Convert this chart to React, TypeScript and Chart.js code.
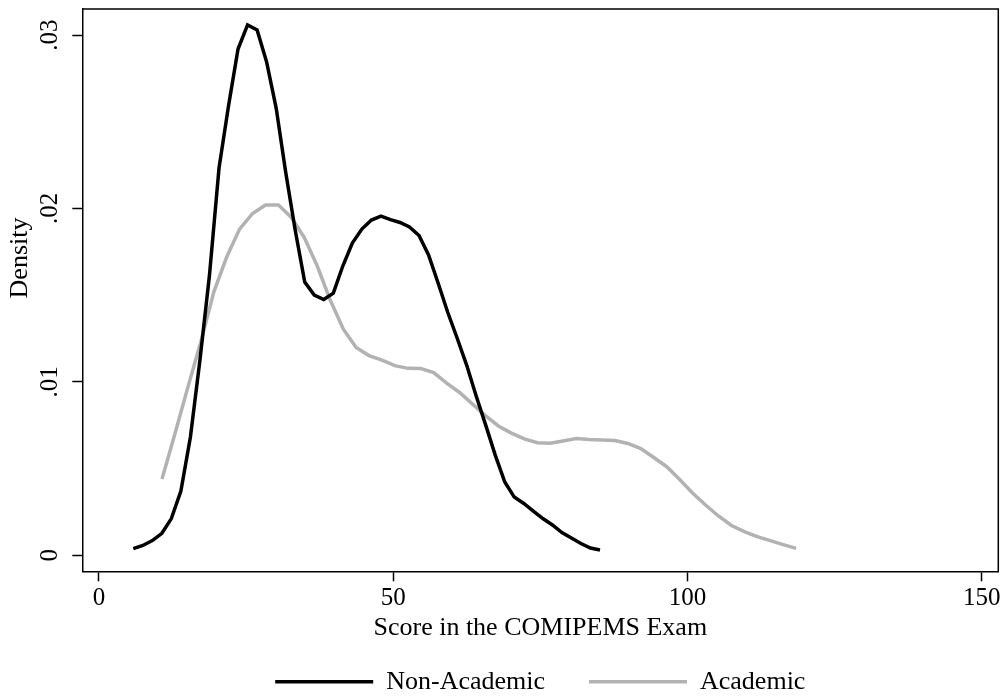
import React, { useEffect, useRef } from "react";
import { Chart, registerables } from "chart.js";

Chart.register(...registerables);

// Kernel density estimates
const nonAcademicX = [5.83, 7.45, 9.07, 10.69, 12.3, 13.92, 15.54, 17.16, 18.78, 20.4, 22.01, 23.63, 25.25, 26.87, 28.49, 30.11, 31.72, 33.34, 34.96, 36.58, 38.2, 39.82, 41.43, 43.05, 44.67, 46.29, 47.91, 49.53, 51.14, 52.76, 54.38, 56.0, 57.62, 59.24, 60.85, 62.47, 64.09, 65.71, 67.33, 68.95, 70.56, 72.18, 73.8, 75.42, 77.04, 78.66, 80.27, 81.89, 83.51, 85.13];
const nonAcademicY = [0.00039, 0.00057, 0.00085, 0.00127, 0.00212, 0.00371, 0.00682, 0.01126, 0.01616, 0.02233, 0.02591, 0.02919, 0.03058, 0.03029, 0.02844, 0.02579, 0.0221, 0.01876, 0.01576, 0.01501, 0.01475, 0.01512, 0.01668, 0.01801, 0.01881, 0.01933, 0.01956, 0.01936, 0.01919, 0.01893, 0.01844, 0.01732, 0.0157, 0.01403, 0.01253, 0.01097, 0.00919, 0.00751, 0.00578, 0.00423, 0.00336, 0.00299, 0.00255, 0.00212, 0.00175, 0.00131, 0.001, 0.00068, 0.00042, 0.00031];

const academicX = [10.71, 12.9, 15.11, 17.3, 19.51, 21.7, 23.89, 26.1, 28.29, 30.5, 32.69, 34.89, 37.09, 39.29, 41.5, 43.69, 45.88, 48.09, 50.28, 52.49, 54.68, 56.87, 59.08, 61.27, 63.48, 65.67, 67.87, 70.08, 72.27, 74.48, 76.67, 78.86, 81.07, 83.26, 85.47, 87.66, 89.86, 92.06, 94.26, 96.47, 98.66, 100.85, 103.06, 105.25, 107.46, 109.65, 111.84, 114.05, 116.24, 118.44];
const academicY = [0.0044, 0.00699, 0.0097, 0.0123, 0.01518, 0.0172, 0.01881, 0.01971, 0.0202, 0.0202, 0.01948, 0.01832, 0.01668, 0.01472, 0.01305, 0.01198, 0.01152, 0.01126, 0.01094, 0.01078, 0.01077, 0.01054, 0.00993, 0.00939, 0.00872, 0.00806, 0.00746, 0.00705, 0.00671, 0.00649, 0.00646, 0.00659, 0.00673, 0.00668, 0.00665, 0.00662, 0.00645, 0.00616, 0.00564, 0.00511, 0.00437, 0.00359, 0.0029, 0.00227, 0.00172, 0.00137, 0.00108, 0.00085, 0.00062, 0.0004];

const xTicks = [0, 50, 100, 150];
const yTicks = [0, 0.01, 0.02, 0.03];
const yTickLabels = ["0", ".01", ".02", ".03"];
const seriesNames = ["Non-Academic", "Academic"];
const xTitle = "Score in the COMIPEMS Exam";
const yTitle = "Density";

const FONT = "'Liberation Serif', 'Times New Roman', serif";

const boxPlugin = {
  id: "boxPlugin",
  afterDraw(chart: any) {
    const { ctx, chartArea } = chart;
    ctx.save();
    ctx.strokeStyle = "#000";
    ctx.lineWidth = 1.5;
    ctx.beginPath();
    ctx.moveTo(chartArea.left, chartArea.top);
    ctx.lineTo(chartArea.right, chartArea.top);
    ctx.lineTo(chartArea.right, chartArea.bottom);
    ctx.stroke();
    // y-axis title, placed where the reference has it
    ctx.translate(20, 258);
    ctx.rotate(-Math.PI / 2);
    ctx.fillStyle = "#000";
    ctx.font = `26px ${FONT}`;
    ctx.textAlign = "center";
    ctx.textBaseline = "middle";
    ctx.fillText(yTitle, 0, 0);
    ctx.restore();
  },
};

export default function App() {
  const ref = useRef<HTMLCanvasElement | null>(null);
  useEffect(() => {
    if (!ref.current) return;
    const toPts = (xs: number[], ys: number[]) => xs.map((x, i) => ({ x, y: ys[i] }));
    const chart = new Chart(ref.current, {
      type: "line",
      data: {
        datasets: [
          {
            label: seriesNames[0],
            data: toPts(nonAcademicX, nonAcademicY),
            borderColor: "#000000",
            backgroundColor: "#000000",
            borderWidth: 3.5,
            pointRadius: 0,
            tension: 0,
            fill: false,
          },
          {
            label: seriesNames[1],
            data: toPts(academicX, academicY),
            borderColor: "#b2b2b2",
            backgroundColor: "#b2b2b2",
            borderWidth: 3.5,
            pointRadius: 0,
            tension: 0,
            fill: false,
          },
        ],
      },
      options: {
        animation: false,
        responsive: false,
        devicePixelRatio: 1,
        layout: { padding: { top: 9, right: 7.7, bottom: -4.7, left: 0 } },
        plugins: {
          tooltip: { enabled: false },
          legend: {
            position: "bottom",
            fullSize: false,
            labels: {
              usePointStyle: true,
              pointStyle: "line",
              pointStyleWidth: 98,
              padding: 44,
              color: "#000",
              font: { family: FONT, size: 26 },
              generateLabels: (ch: any) =>
                ch.data.datasets.map((ds: any, i: number) => ({
                  text: ds.label,
                  strokeStyle: ds.borderColor,
                  fillStyle: ds.borderColor,
                  lineWidth: 3.5,
                  pointStyle: "line",
                  datasetIndex: i,
                  hidden: false,
                  fontColor: "#000",
                })),
            },
          },
        },
        scales: {
          x: {
            type: "linear",
            min: -2.83,
            max: 152.8,
            afterBuildTicks: (s: any) => {
              s.ticks = xTicks.map((v) => ({ value: v }));
            },
            afterFit: (s: any) => {
              s.height = 53.4;
              s.paddingLeft = 0;
              s.paddingRight = 0;
            },
            grid: { drawOnChartArea: false, drawTicks: true, tickLength: 10, tickWidth: 1.5, tickColor: "#000" },
            border: { display: true, color: "#000", width: 1.5 },
            ticks: {
              padding: 2,
              color: "#000",
              font: { family: FONT, size: 25 },
              maxRotation: 0,
              autoSkip: false,
              callback: (v: any) => String(v),
            },
            title: {
              display: true,
              text: xTitle,
              color: "#000",
              font: { family: FONT, size: 26 },
              padding: { top: 0, bottom: -19.4 },
            },
          },
          y: {
            type: "linear",
            min: -0.00092,
            max: 0.0315,
            afterBuildTicks: (s: any) => {
              s.ticks = yTicks.map((v) => ({ value: v }));
            },
            afterFit: (s: any) => {
              s.width = 82.3;
              s.paddingTop = 0;
              s.paddingBottom = 0;
            },
            grid: { drawOnChartArea: false, drawTicks: true, tickLength: 10, tickWidth: 1.5, tickColor: "#000" },
            border: { display: true, color: "#000", width: 1.5 },
            ticks: {
              padding: 6.7,
              color: "#000",
              crossAlign: "center",
              minRotation: 90,
              maxRotation: 90,
              autoSkip: false,
              font: { family: FONT, size: 25 },
              callback: (v: any) => {
                const idx = yTicks.findIndex((t) => Math.abs(t - v) < 1e-9);
                return idx >= 0 ? yTickLabels[idx] : "";
              },
            },
            title: { display: false },
          },
        },
      },
      plugins: [boxPlugin],
    });
    return () => chart.destroy();
  }, []);
  return (
    <div style={{ position: "absolute", left: 0, top: 0, width: 1006, height: 700, background: "#fff" }}>
      <canvas ref={ref} width={1006} height={700} style={{ width: 1006, height: 700, display: "block" }} />
    </div>
  );
}
